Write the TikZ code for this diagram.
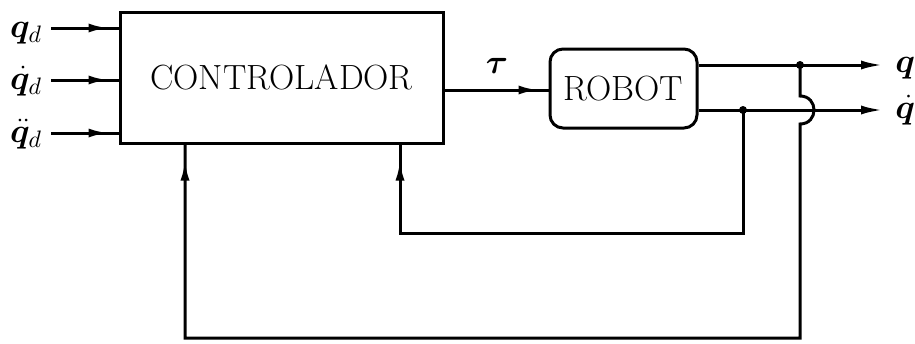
\RequirePackage{fix-cm}
\documentclass[tikz,border=0pt]{standalone}
\usepackage{fontspec}
\usepackage{amsmath,bm}
\usetikzlibrary{arrows.meta,decorations.markings}
\tikzset{
  wire/.style={line width=1.5pt},
  midarrow/.style={postaction={decorate},decoration={markings,mark=at position #1 with {\arrow{Latex[length=10pt,width=4.5pt]}}}},
  endarrow/.style={-{Latex[length=11pt,width=4.5pt]}},
  blockbox/.style={draw,line width=1.5pt,inner sep=0pt,font=\fontsize{17.5}{21}\selectfont},
  lbl/.style={font=\fontsize{17}{20}\selectfont,inner sep=0pt,anchor=base},
  jdot/.style={circle,fill,inner sep=0pt,minimum size=4pt}
}
\begin{document}
\begin{tikzpicture}[x=0.5pt,y=-0.5pt]
\useasboundingbox (0,0) rectangle (915,343);
% blocks
\node[blockbox,minimum width=161.5pt,minimum height=65.5pt] (ctrl) at (281.5,77.5) {CONTROLADOR};
\node[blockbox,rounded corners=6.5pt,minimum width=73.5pt,minimum height=39.5pt] (robot) at (623.5,88.5) {ROBOT};
% inputs
\coordinate (in1) at (51,28);
\coordinate (in2) at (51,80);
\coordinate (in3) at (51,133);
\node[lbl] (lq1) at (26,37) {$\bm{q}_d$};
\node[lbl] (lq2) at (26,89) {$\dot{\bm{q}}_d$};
\node[lbl] (lq3) at (26,142) {$\ddot{\bm{q}}_d$};
\draw[wire,midarrow=-5pt] (in1) -- (in1 -| ctrl.west);
\draw[wire,midarrow=-5pt] (in2) -- (in2 -| ctrl.west);
\draw[wire,midarrow=-5pt] (in3) -- (in3 -| ctrl.west);
% tau
\coordinate (tauy) at (0,90);
\node[lbl] (ltau) at (497,73) {$\bm{\tau}$};
\draw[wire,midarrow=-5pt] (tauy -| ctrl.east) -- (tauy -| robot.west);
% outputs
\coordinate (qout) at (883,65);
\coordinate (qdout) at (883,110);
\node[lbl,anchor=base west] (lq) at (895,72) {$\bm{q}$};
\node[lbl,anchor=base west] (lqd) at (895,118) {$\dot{\bm{q}}$};
\draw[wire,endarrow] (qout -| robot.east) -- (qout);
\draw[wire,endarrow] (qdout -| robot.east) -- (qdout);
% junctions
\coordinate (j1) at (800,65);
\coordinate (j2) at (743,110);
\node[jdot] (dj1) at (j1) {};
\node[jdot] (dj2) at (j2) {};
% inner feedback
\coordinate (fb1) at (400,233);
\draw[wire,midarrow=-8pt] (j2) |- (fb1) -- (fb1 |- ctrl.south);
% outer feedback with jump
\coordinate (jmpA) at (800,96);
\coordinate (jmpB) at (800,124);
\coordinate (fb2) at (185,338);
\draw[wire,midarrow=-8pt] (j1) -- (jmpA) .. controls (818.7,96) and (818.7,124) .. (jmpB) |- (fb2) -- (fb2 |- ctrl.south);
\end{tikzpicture}
\end{document}
